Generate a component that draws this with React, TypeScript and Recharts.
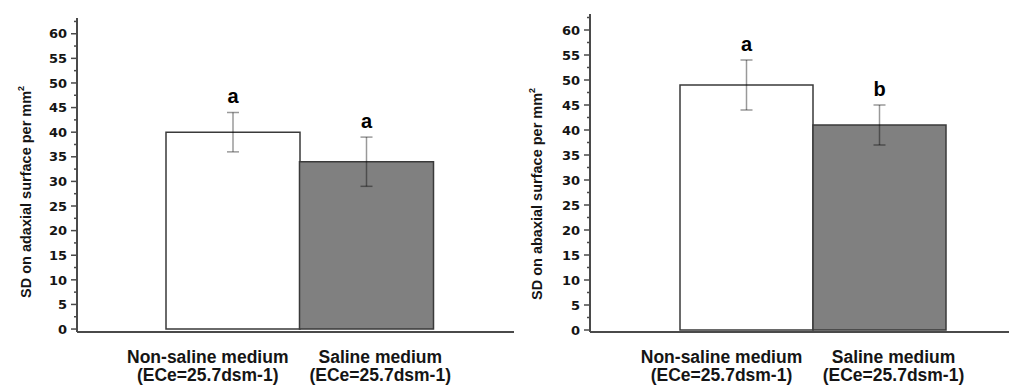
import React from 'react';
import { BarChart, Bar, XAxis, YAxis, Cell, ErrorBar, LabelList, Label } from 'recharts';

const categoryLine1 = ['Non-saline medium', 'Saline medium'];
const categoryLine2 = ['(ECe=25.7dsm-1)', '(ECe=25.7dsm-1)'];

const adaxialMeans = [40, 34];
const adaxialErrors = [4, 5];
const adaxialLetters = ['a', 'a'];

const abaxialMeans = [49, 41];
const abaxialErrors = [5, 4];
const abaxialLetters = ['a', 'b'];

const yTickValues = [0, 2.5, 5, 7.5, 10, 12.5, 15, 17.5, 20, 22.5, 25, 27.5, 30, 32.5, 35, 37.5, 40, 42.5, 45, 47.5, 50, 52.5, 55, 57.5, 60, 62.5];
const majorStep = 5;

const barFills = ['#ffffff', '#808080'];

const AXIS = '#4a4a4a';
const TEXT = '#151515';

const buildData = (means: number[], errs: number[], letters: string[]) =>
  categoryLine1.map((name, i) => ({ name, mean: means[i], err: errs[i], letter: letters[i] }));

const YTick = (props: any) => {
  const { x, y, payload } = props;
  const v = payload.value;
  const major = v % majorStep === 0;
  return (
    <g>
      <line x1={x - (major ? 6 : 3)} x2={x} y1={y} y2={y} stroke={AXIS} strokeWidth={1.5} />
      {major && (
        <text x={x - 10} y={y} dy="0.36em" textAnchor="end" fontFamily="'DejaVu Sans', sans-serif" fontWeight="bold" fontSize={13} fill={TEXT}>
          {v}
        </text>
      )}
    </g>
  );
};

const xLabelShift = [-25, 14];

const XTick = (props: any) => {
  const { x, y, index } = props;
  const cx = x + xLabelShift[index];
  return (
    <g>
      <text x={cx} y={y + 31} textAnchor="middle" fontFamily="'Liberation Sans', Arial, sans-serif" fontWeight="bold" fontSize={17.5} fill={TEXT}>
        {categoryLine1[index]}
      </text>
      <text x={cx} y={y + 49} textAnchor="middle" fontFamily="'Liberation Sans', Arial, sans-serif" fontWeight="bold" fontSize={17.5} fill={TEXT}>
        {categoryLine2[index]}
      </text>
    </g>
  );
};

const makeLetter = (errs: number[], means: number[]) => (props: any) => {
  const { x, y, width, height, value, index } = props;
  const ppu = height / means[index];
  const ty = y - errs[index] * ppu - 9;
  return (
    <text x={x + width / 2} y={ty} textAnchor="middle" fontFamily="'Liberation Sans', Arial, sans-serif" fontWeight="bold" fontSize={20} fill="#000">
      {value}
    </text>
  );
};

const makeYLabel = (text: string, bx: number, by: number) => () => (
  <text
    x={bx}
    y={by}
    transform={`rotate(-90, ${bx}, ${by})`}
    textAnchor="start"
    fontFamily="'Liberation Sans', Arial, sans-serif"
    fontWeight="bold"
    fontSize={14.5}
    fill={TEXT}
  >
    {text}
    <tspan dy={-7} fontSize={9}>2</tspan>
  </text>
);

type PanelProps = {
  means: number[];
  errs: number[];
  letters: string[];
  title: string;
  width: number;
  marginTop: number;
  marginRight: number;
  yAxisWidth: number;
  domain: [number, number];
  padL: number;
  padR: number;
  labelX: number;
  labelY: number;
};

const Panel = (p: PanelProps) => {
  const data = buildData(p.means, p.errs, p.letters);
  return (
    <BarChart
      width={p.width}
      height={385}
      data={data}
      margin={{ top: p.marginTop, right: p.marginRight, bottom: 0, left: 0 }}
      barCategoryGap={0}
      barGap={0}
    >
      <XAxis
        dataKey="name"
        height={53}
        padding={{ left: p.padL, right: p.padR }}
        axisLine={{ stroke: AXIS, strokeWidth: 2 }}
        tickLine={false}
        tickSize={0}
        tickMargin={0}
        interval={0}
        tick={<XTick />}
      />
      <XAxis
        xAxisId="top"
        dataKey="name"
        orientation="top"
        height={0}
        padding={{ left: p.padL, right: p.padR }}
        axisLine={{ stroke: AXIS, strokeWidth: 2 }}
        tick={false}
        tickLine={false}
      />
      <YAxis
        width={p.yAxisWidth}
        domain={p.domain}
        allowDataOverflow
        ticks={yTickValues}
        interval={0}
        axisLine={{ stroke: AXIS, strokeWidth: 2 }}
        tickLine={false}
        tickSize={0}
        tickMargin={0}
        tick={<YTick />}
      >
        <Label content={makeYLabel(p.title, p.labelX, p.labelY)} />
      </YAxis>
      <YAxis
        yAxisId="right"
        orientation="right"
        width={0}
        domain={p.domain}
        allowDataOverflow
        axisLine={{ stroke: AXIS, strokeWidth: 2 }}
        tick={false}
        tickLine={false}
      />
      <Bar dataKey="mean" isAnimationActive={false} stroke="#3a3a3a" strokeWidth={1.5}>
        {data.map((d, i) => (
          <Cell key={d.name} fill={barFills[i]} />
        ))}
        <ErrorBar dataKey="err" width={6} stroke="rgba(0,0,0,0.4)" strokeWidth={1.5} isAnimationActive={false} />
        <LabelList dataKey="letter" content={makeLetter(p.errs, p.means)} />
      </Bar>
    </BarChart>
  );
};

export default function App() {
  return (
    <div style={{ position: 'fixed', left: 0, top: 0, width: 1009, height: 385, overflow: 'hidden', background: '#fff' }}>
      <div style={{ position: 'absolute', left: 0, top: 0 }}>
        <Panel
          means={adaxialMeans}
          errs={adaxialErrors}
          letters={adaxialLetters}
          title="SD on adaxial surface per mm"
          width={530}
          marginTop={18}
          marginRight={16}
          yAxisWidth={77}
          domain={[-0.6, 63.2]}
          padL={89}
          padR={81}
          labelX={31}
          labelY={298}
        />
      </div>
      <div style={{ position: 'absolute', left: 515, top: 0 }}>
        <Panel
          means={abaxialMeans}
          errs={abaxialErrors}
          letters={abaxialLetters}
          title="SD on abaxial surface per mm"
          width={530}
          marginTop={14}
          marginRight={19}
          yAxisWidth={75}
          domain={[-0.4, 63.2]}
          padL={90}
          padR={80}
          labelX={27}
          labelY={300}
        />
      </div>
    </div>
  );
}
